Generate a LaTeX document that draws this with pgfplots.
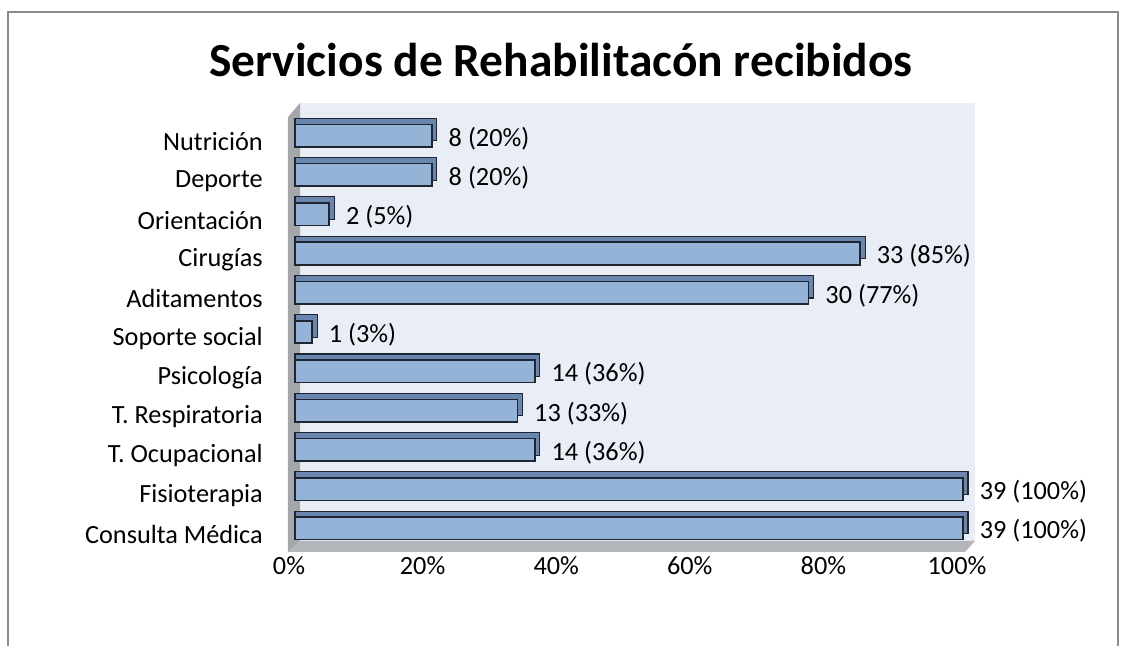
\documentclass[border=0pt]{standalone}
\usepackage{pgfplots}
\pgfplotsset{compat=1.18}
\usepackage{fontspec}
\setmainfont{Carlito}
\definecolor{barfront}{HTML}{95B3D7}
\definecolor{bardepth}{HTML}{6A86AE}
\definecolor{baredge}{HTML}{1E2633}
\definecolor{wall}{HTML}{E9EDF5}
\definecolor{sidewall}{HTML}{A4A6AA}
\definecolor{floorc}{HTML}{B3B6BB}
\definecolor{frame}{HTML}{8C8C8C}
\begin{document}
\begin{tikzpicture}
\path[use as bounding box] (0,0) rectangle (841.5pt,484.5pt);
\draw[frame, line width=1.5pt] (6pt,-2pt) -- (6pt,475.5pt) -- (838.5pt,475.5pt) -- (838.5pt,-2pt);
\node[anchor=base, inner sep=0pt, font=\fontsize{35.6}{42}\selectfont\bfseries] at (420.75pt,426.75pt) {Servicios de Rehabilitacón recibidos};
\begin{axis}[
  at={(216pt,70.5pt)}, anchor=south west,
  scale only axis, width=515.25pt, height=336.75pt,
  xmin=-1.05, xmax=101.8, ymin=-0.6, ymax=10.83,
  axis line style={draw=none}, major tick length=0pt,
  xtick={0,20,40,60,80,100},
  xticklabels={0\%,20\%,40\%,60\%,80\%,100\%},
  ytick={0,...,10},
  yticklabels={Consulta Médica,Fisioterapia,T. Ocupacional,T. Respiratoria,Psicología,Soporte social,Aditamentos,Cirugías,Orientación ,Deporte,Nutrición},
  ticklabel style={font=\fontsize{19.7}{23}\selectfont},
  xticklabel style={anchor=center, inner sep=0pt, yshift=-10.5pt, xshift=-4.5pt},
  yticklabel style={anchor=east, inner sep=0pt, xshift=-18.75pt, yshift=-4.5pt},
  clip=false,
]
% walls
\fill[wall] (axis cs:0.75,-0.32) rectangle (axis cs:101.8,10.83);
\fill[sidewall] (axis cs:-1.05,-0.6) -- (axis cs:-1.05,10.47) -- (axis cs:0.75,10.83) -- (axis cs:0.75,-0.32) -- cycle;
\fill[floorc] (axis cs:-1.05,-0.6) -- (axis cs:100.3,-0.6) -- (axis cs:101.8,-0.32) -- (axis cs:0.75,-0.32) -- cycle;
% depth of bars
\addplot[xbar, bar width=16.9pt, bar shift=4.5pt, fill=bardepth, draw=baredge, line width=0.8pt]
coordinates {(100.75,0) (100.75,1) (36.65,2) (34.05,3) (36.65,4) (3.31,5) (77.65,6) (85.35,7) (5.88,8) (21.25,9) (21.25,10)};
% front faces
\addplot[xbar, bar width=16.9pt, bar shift=0pt, fill=barfront, draw=baredge, line width=1.2pt,
  point meta=explicit symbolic, nodes near coords,
  nodes near coords style={anchor=west, inner sep=0pt, xshift=12pt, yshift=-2pt, font=\fontsize{19.7}{23}\selectfont, text=black}]
coordinates {(100,0) [39 (100\%)] (100,1) [39 (100\%)] (35.9,2) [14 (36\%)] (33.3,3) [13 (33\%)] (35.9,4) [14 (36\%)] (2.56,5) [1 (3\%)] (76.9,6) [30 (77\%)] (84.6,7) [33 (85\%)] (5.13,8) [2 (5\%)] (20.5,9) [8 (20\%)] (20.5,10) [8 (20\%)]};
\end{axis}
\end{tikzpicture}
\end{document}
